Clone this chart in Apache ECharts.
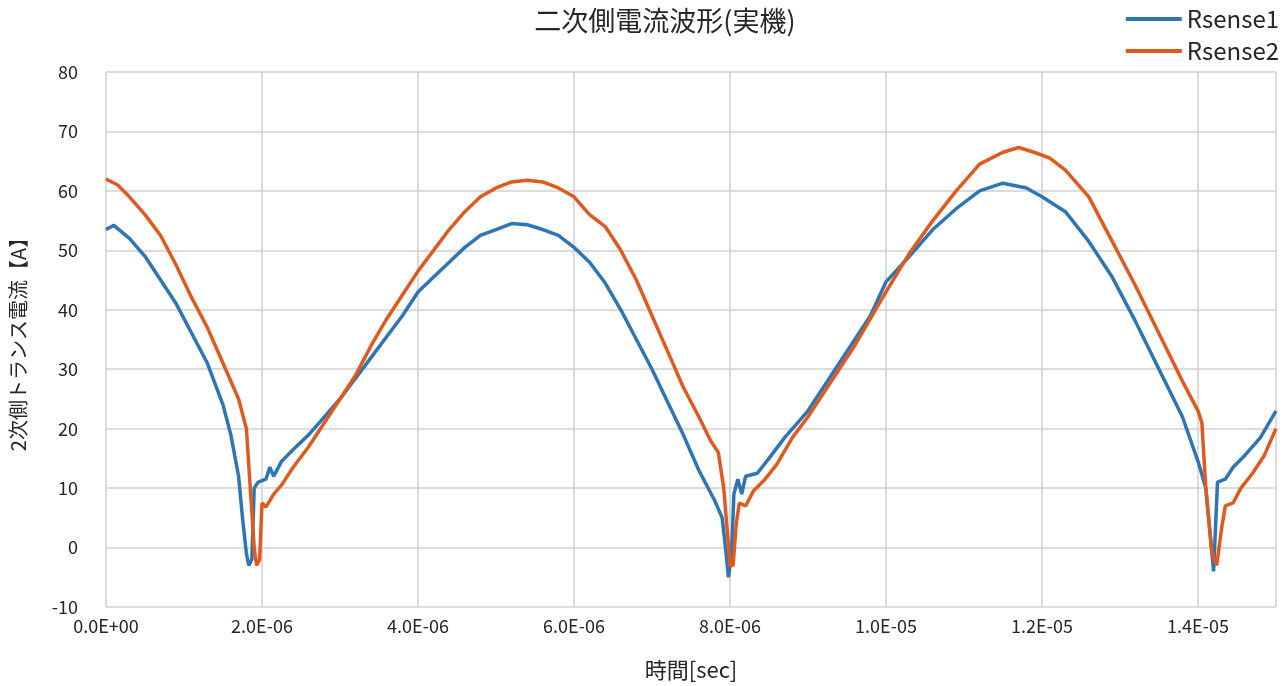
<!DOCTYPE html>
<html><head><meta charset="utf-8">
<script src="https://cdn.jsdelivr.net/npm/echarts@6/dist/echarts.min.js"></script>
<style>html,body{margin:0;padding:0;background:#fff}#c{width:1284px;height:686px}</style>
</head><body><div id="c"></div>
<script>
const timeUs1 = [0,0.1,0.3,0.5,0.7,0.9,1.1,1.3,1.5,1.6,1.7,1.75,1.8,1.83,1.87,1.9,1.95,2.05,2.1,2.15,2.25,2.4,2.6,2.8,3.0,3.2,3.4,3.6,3.8,4.0,4.2,4.4,4.6,4.8,5.0,5.2,5.4,5.6,5.8,6.0,6.2,6.4,6.6,6.8,7.0,7.2,7.4,7.6,7.8,7.9,7.95,7.98,8.02,8.05,8.1,8.15,8.2,8.35,8.5,8.7,9.0,9.2,9.4,9.6,9.8,10.0,10.3,10.6,10.9,11.2,11.5,11.8,12.0,12.3,12.6,12.9,13.2,13.5,13.8,14.0,14.1,14.15,14.2,14.25,14.35,14.45,14.6,14.8,15.0];
const rsense1 = [53.5,54.2,52,49,45,41,36,31,24,19,12,5,-1,-3,-2,10,11,11.5,13.5,12,14.5,16.5,19,22,25,28.5,32,35.5,39,43,45.5,48,50.5,52.5,53.5,54.5,54.3,53.5,52.5,50.5,48,44.5,40,35,30,24.5,19,13,8,5,-1,-5,-1,9,11.5,9,12,12.5,15,18.5,23,27,31,35,39,44.7,49,53.5,57,60,61.3,60.5,59,56.5,51.5,45.5,38,30,22,14.5,10,3,-4,11,11.5,13.5,15.5,18.5,23];
const timeUs2 = [0,0.15,0.3,0.5,0.7,0.9,1.1,1.3,1.5,1.7,1.8,1.85,1.9,1.93,1.97,2.0,2.05,2.15,2.25,2.4,2.6,2.8,3.0,3.2,3.4,3.6,3.8,4.0,4.2,4.4,4.6,4.8,5.0,5.2,5.4,5.6,5.8,6.0,6.2,6.4,6.6,6.8,7.0,7.2,7.4,7.6,7.75,7.85,7.92,7.97,8.0,8.04,8.08,8.12,8.2,8.3,8.45,8.6,8.8,9.0,9.2,9.4,9.6,9.8,10.0,10.3,10.6,10.9,11.2,11.5,11.7,11.9,12.1,12.3,12.6,12.9,13.2,13.5,13.8,14.0,14.05,14.1,14.18,14.24,14.3,14.35,14.45,14.55,14.7,14.85,15.0];
const rsense2 = [62,61,59,56,52.5,47.5,42,37,31,25,20,10,0,-3,-2,7.5,6.8,9,10.5,13.5,17,21,25,29,34,38.5,42.5,46.5,50,53.5,56.5,59,60.5,61.5,61.8,61.5,60.5,59,56,54,50,45,39,33,27,22,18,16,10,2,-3,-3,4,7.5,7,9.5,11.5,14,18.5,22,26,30,34,38.5,43,49.5,55,60,64.5,66.5,67.3,66.5,65.5,63.5,59,51.5,44,36,28,23,21,10,-1,-3,3,7,7.5,10,12.5,15.5,20];
const seriesNames = ['Rsense1','Rsense2'];
const yTicks = {min:-10,max:80,interval:10};

function fmt(v){
  if (Math.abs(v) < 1e-12) return '0.0E+00';
  let e = Math.floor(Math.log10(Math.abs(v)) + 1e-9);
  let m = v / Math.pow(10, e);
  let s = e < 0 ? '-' : '+';
  return m.toFixed(1) + 'E' + s + String(Math.abs(e)).padStart(2,'0');
}
const pairs = (t, v) => t.map((x,i)=>[x*1e-6, v[i]]);
const chart = echarts.init(document.getElementById('c'));
const font = '"Noto Sans CJK JP", "Noto Sans", sans-serif';
chart.setOption({
  backgroundColor:'#fff',
  animation:false,
  textStyle:{fontFamily:font},
  title:{text:'二次側電流波形(実機)',left:660,top:2,textAlign:'center',textStyle:{fontSize:27,fontWeight:'normal',color:'#262626',fontFamily:font}},
  legend:{orient:'vertical',right:0,top:2,itemGap:8,itemWidth:56,itemHeight:4,icon:'rect',
    textStyle:{fontSize:24,color:'#262626',fontFamily:font},data:seriesNames},
  grid:{left:104,right:8,top:72,bottom:65},
  xAxis:{type:'value',min:0,max:1.5e-5,interval:2e-6,
    name:'時間[sec]',nameLocation:'middle',nameGap:52,nameTextStyle:{fontSize:22,color:'#262626'},
    axisLine:{show:false},axisTick:{show:false},
    axisLabel:{formatter:fmt,fontSize:18,color:'#262626',showMaxLabel:false,margin:10},
    splitLine:{lineStyle:{color:'#d0d0d0',width:1.5}}},
  yAxis:{type:'value',min:yTicks.min,max:yTicks.max,interval:yTicks.interval,
    name:'2次側トランス電流【A】',nameLocation:'middle',nameGap:78,nameTextStyle:{fontSize:20,color:'#262626'},
    axisLine:{show:false},axisTick:{show:false},
    axisLabel:{fontSize:18,color:'#262626',margin:28},
    splitLine:{lineStyle:{color:'#d0d0d0',width:1.5}}},
  series:[
    {name:seriesNames[0],type:'line',showSymbol:false,data:pairs(timeUs1,rsense1),lineStyle:{color:'#2e75b6',width:3.5},itemStyle:{color:'#2e75b6'}},
    {name:seriesNames[1],type:'line',showSymbol:false,data:pairs(timeUs2,rsense2),lineStyle:{color:'#e05a1e',width:3.5},itemStyle:{color:'#e05a1e'}}
  ]
});
</script></body></html>
